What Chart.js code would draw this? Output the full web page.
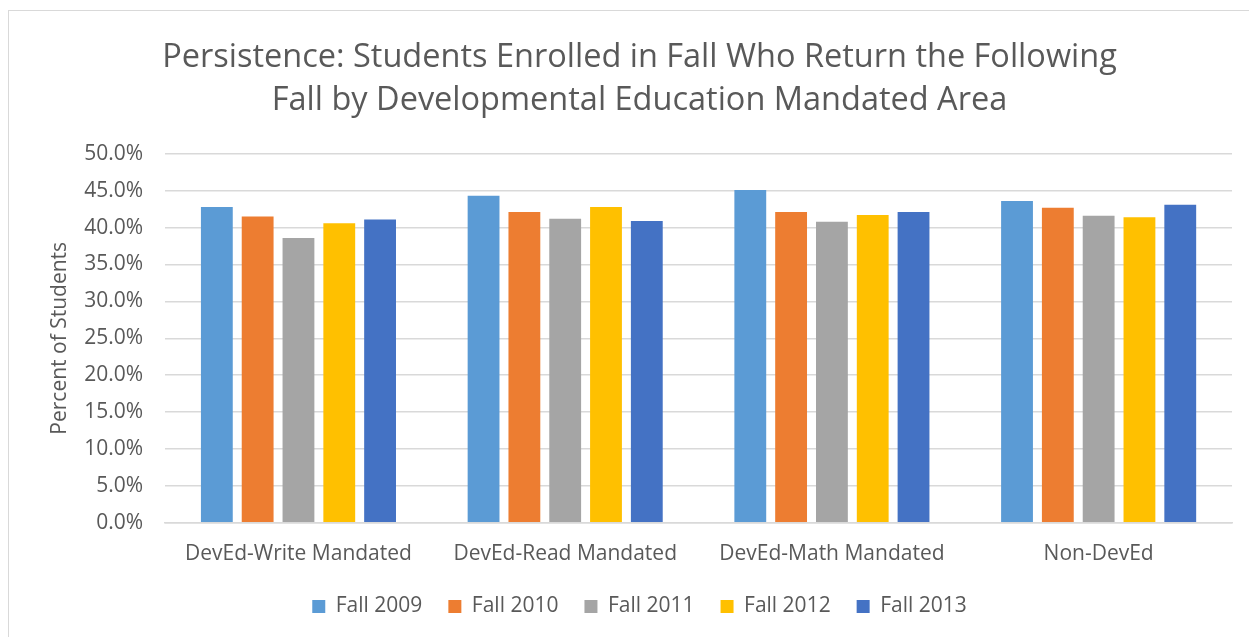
<!DOCTYPE html>
<html>
<head>
<meta charset="utf-8">
<script src="https://cdn.jsdelivr.net/npm/chart.js@4"></script>
<style>
  html, body { margin: 0; padding: 0; background: #fff; }
  .frame {
    position: absolute; left: 8px; top: 10px; width: 1241px; height: 627px;
    border-left: 1px solid #d9d9d9; border-top: 1px solid #d9d9d9;
    box-sizing: border-box;
  }
  #chartBox { position: absolute; left: 0; top: 0; width: 1249px; height: 637px; }
</style>
</head>
<body>
<div class="frame"></div>
<div id="chartBox"><canvas id="persistChart"></canvas></div>
<script>
const categories = ['DevEd-Write Mandated', 'DevEd-Read Mandated', 'DevEd-Math Mandated', 'Non-DevEd'];
const seriesNames = ['Fall 2009', 'Fall 2010', 'Fall 2011', 'Fall 2012', 'Fall 2013'];
const fall2009 = [42.8, 44.3, 45.1, 43.6];
const fall2010 = [41.5, 42.1, 42.1, 42.7];
const fall2011 = [38.6, 41.2, 40.8, 41.6];
const fall2012 = [40.6, 42.8, 41.7, 41.4];
const fall2013 = [41.1, 40.9, 42.1, 43.1];
const seriesColors = ['#5b9bd5', '#ed7d31', '#a5a5a5', '#ffc000', '#4472c4'];

const textColor = '#595959';
const fontFamily = "'Open Sans', 'Noto Sans', sans-serif";

const seriesValues = [fall2009, fall2010, fall2011, fall2012, fall2013];

const chartEl = document.getElementById('persistChart');

new Chart(chartEl, {
    type: 'bar',
    data: {
        labels: categories,
        datasets: seriesNames.map((name, i) => ({
            label: name,
            data: seriesValues[i],
            backgroundColor: seriesColors[i],
            borderWidth: 0,
            categoryPercentage: 0.765,
            barPercentage: 0.78
        }))
    },
    options: {
        responsive: true,
        maintainAspectRatio: false,
        animation: false,
        layout: {
            padding: { left: 47, right: 17, top: 36, bottom: 10 }
        },
        plugins: {
            title: {
                display: true,
                text: ['Persistence: Students Enrolled in Fall Who Return the Following',
                       'Fall by Developmental Education Mandated Area'],
                color: textColor,
                font: { family: fontFamily, size: 32.5, weight: 'normal', lineHeight: 1.32 },
                padding: { top: 0, bottom: 32 }
            },
            legend: {
                position: 'bottom',
                labels: {
                    color: textColor,
                    font: { family: fontFamily, size: 21 },
                    boxWidth: 13,
                    boxHeight: 13,
                    padding: 26
                }
            },
            tooltip: { enabled: false }
        },
        scales: {
            y: {
                min: 0,
                max: 50,
                ticks: {
                    stepSize: 5,
                    color: textColor,
                    font: { family: fontFamily, size: 21 },
                    padding: 22,
                    callback: value => value.toFixed(1) + '%'
                },
                grid: { color: '#d9d9d9', lineWidth: 1.5, drawTicks: false },
                border: { display: false },
                title: {
                    display: true,
                    text: 'Percent of Students',
                    color: textColor,
                    font: { family: fontFamily, size: 21 },
                    padding: { top: 0, bottom: -10 }
                }
            },
            x: {
                ticks: {
                    color: textColor,
                    font: { family: fontFamily, size: 21 },
                    padding: 19
                },
                grid: { display: false, drawTicks: false },
                border: { color: '#d9d9d9', width: 1.5 },
                afterFit: axis => { axis.height -= 16; }
            }
        }
    }
});
</script>
</body>
</html>
